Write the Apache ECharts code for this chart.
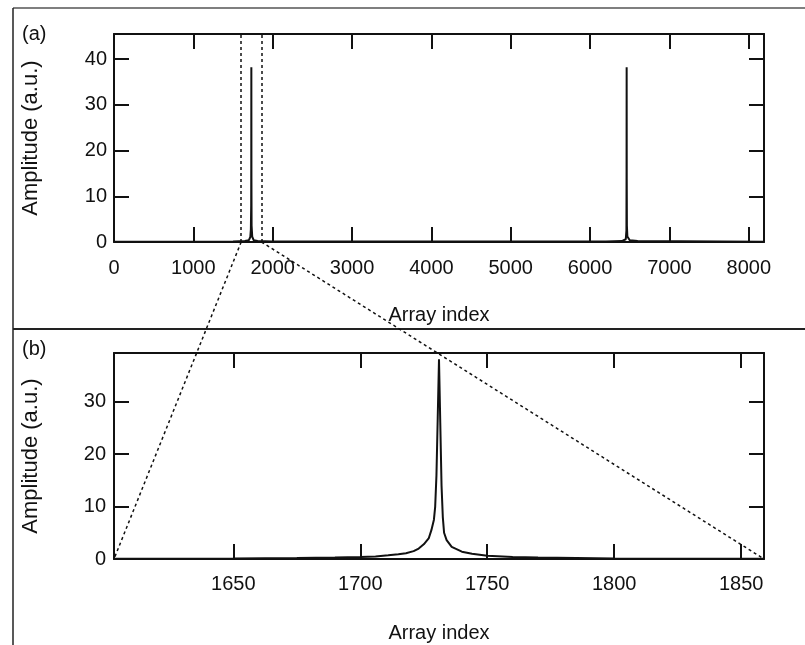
<!DOCTYPE html>
<html>
<head>
<meta charset="utf-8">
<script src="https://cdn.jsdelivr.net/npm/echarts@6/dist/echarts.min.js"></script>
<style>
  html, body { margin: 0; padding: 0; background: #fff; }
  #chart { width: 805px; height: 645px; }
</style>
</head>
<body>
<div id="chart"></div>
<script>
// full spectrum (panel a)
const fullIndex = [0, 1500, 1650, 1700, 1718, 1725, 1729, 1730, 1731, 1732, 1734, 1742, 1760, 1810, 2000,
  6200, 6400, 6450, 6458, 6460, 6461, 6462, 6464, 6470, 6500, 6600, 8191]
const fullAmp = [0.05, 0.1, 0.2, 0.4, 1.1, 2.8, 8, 16, 38.2, 14, 3.6, 1.2, 0.4, 0.2, 0.1,
  0.1, 0.2, 0.6, 2.5, 16, 38.2, 14, 3.6, 1.2, 0.4, 0.2, 0.05]

// zoomed window (panel b)
const zoomIndex = [1603, 1650, 1675, 1690, 1700, 1706, 1711, 1715, 1718, 1721, 1723, 1725, 1727, 1728, 1729,
  1729.5, 1730, 1730.5, 1731, 1731.5, 1732, 1732.5, 1733, 1734, 1736, 1740, 1744, 1750, 1760, 1770, 1785, 1800, 1859]
const zoomAmp = [0.05, 0.1, 0.2, 0.3, 0.4, 0.5, 0.7, 0.9, 1.1, 1.5, 2.0, 2.8, 4.0, 5.5, 7.5,
  10, 16, 27, 38.1, 26, 14, 8, 5, 3.6, 2.3, 1.4, 1.0, 0.6, 0.4, 0.3, 0.2, 0.1, 0.05]

// window boundaries
const windowStart = 1603
const windowEnd = 1859

const topXTicks = [0, 1000, 2000, 3000, 4000, 5000, 6000, 7000, 8000]
const topYTicks = [0, 10, 20, 30, 40]
const bottomXTicks = [1650, 1700, 1750, 1800, 1850]
const bottomYTicks = [0, 10, 20, 30]

const font = 'Liberation Sans, Arial, Helvetica, sans-serif'
const black = '#111'

const chart = echarts.init(document.getElementById('chart'))

const pairs = (xs, ys) => xs.map((x, i) => [x, ys[i]])

const axisBase = (ticks, showLabel, margin) => ({
  axisLine: { show: true, onZero: false, lineStyle: { color: black, width: 2 } },
  axisTick: { show: true, inside: true, length: 15, customValues: ticks, lineStyle: { color: black, width: 2 } },
  axisLabel: {
    show: showLabel, customValues: ticks, margin: margin, color: black, fontSize: 20, fontFamily: font,
    formatter: (v) => String(v)
  },
  splitLine: { show: false }
})

const nameStyle = (size) => ({ color: black, fontSize: size, fontFamily: font })

let option = {
  animation: false,
  grid: [
    { left: 114, right: 41, top: 34, height: 208 },
    { left: 114, right: 41, top: 353, height: 206 }
  ],
  xAxis: [
    Object.assign({
      type: 'value', gridIndex: 0, min: 0, max: 8192, position: 'bottom',
      name: 'Array index', nameLocation: 'middle', nameGap: 63, nameTextStyle: nameStyle(20)
    }, axisBase(topXTicks, true, 16)),
    Object.assign({ type: 'value', gridIndex: 0, min: 0, max: 8192, position: 'top' }, axisBase(topXTicks, false, 8)),
    Object.assign({
      type: 'value', gridIndex: 1, min: windowStart, max: windowEnd, position: 'bottom',
      name: 'Array index', nameLocation: 'middle', nameGap: 64, nameTextStyle: nameStyle(20)
    }, axisBase(bottomXTicks, true, 15)),
    Object.assign({ type: 'value', gridIndex: 1, min: windowStart, max: windowEnd, position: 'top' }, axisBase(bottomXTicks, false, 8))
  ],
  yAxis: [
    Object.assign({
      type: 'value', gridIndex: 0, min: 0, max: 45.5, position: 'left',
      name: 'Amplitude (a.u.)', nameLocation: 'middle', nameGap: 72, nameTextStyle: nameStyle(22)
    }, axisBase(topYTicks, true, 7)),
    Object.assign({ type: 'value', gridIndex: 0, min: 0, max: 45.5, position: 'right' }, axisBase(topYTicks, false, 8)),
    Object.assign({
      type: 'value', gridIndex: 1, min: 0, max: 39.3, position: 'left',
      name: 'Amplitude (a.u.)', nameLocation: 'middle', nameGap: 72, nameTextStyle: nameStyle(22)
    }, axisBase(bottomYTicks, true, 8)),
    Object.assign({ type: 'value', gridIndex: 1, min: 0, max: 39.3, position: 'right' }, axisBase(bottomYTicks, false, 8))
  ],
  series: [
    {
      type: 'line',
      xAxisIndex: 0,
      yAxisIndex: 0,
      showSymbol: false,
      lineStyle: { color: black, width: 2 },
      data: pairs(fullIndex, fullAmp),
      markLine: {
        silent: true,
        symbol: 'none',
        label: { show: false },
        lineStyle: { color: black, width: 1.5, type: [3, 3] },
        data: [{ xAxis: windowStart }, { xAxis: windowEnd }]
      }
    },
    {
      type: 'line',
      xAxisIndex: 2,
      yAxisIndex: 2,
      showSymbol: false,
      lineStyle: { color: black, width: 2 },
      data: pairs(zoomIndex, zoomAmp)
    }
  ]
}

chart.setOption(option)

// zoom connector lines, placed through the axes
const a0 = chart.convertToPixel({ xAxisIndex: 0, yAxisIndex: 0 }, [windowStart, 0])
const a1 = chart.convertToPixel({ xAxisIndex: 0, yAxisIndex: 0 }, [windowEnd, 0])
const b0 = chart.convertToPixel({ xAxisIndex: 2, yAxisIndex: 2 }, [windowStart, 0])
const b1 = chart.convertToPixel({ xAxisIndex: 2, yAxisIndex: 2 }, [windowEnd, 0])
const dotted = { stroke: black, lineWidth: 1.5, lineDash: [3, 3] }

chart.setOption({
  graphic: [
    { type: 'line', z: 10, shape: { x1: 13, y1: 8, x2: 805, y2: 8 }, style: { stroke: '#555', lineWidth: 1.5 } },
    { type: 'line', z: 10, shape: { x1: 13, y1: 8, x2: 13, y2: 645 }, style: { stroke: '#222', lineWidth: 1.5 } },
    { type: 'line', z: 10, shape: { x1: 13, y1: 329, x2: 805, y2: 329 }, style: { stroke: '#222', lineWidth: 2 } },
    { type: 'text', z: 10, left: 22, top: 24, style: { text: '(a)', fill: black, font: '20px ' + font } },
    { type: 'text', z: 10, left: 22, top: 339, style: { text: '(b)', fill: black, font: '20px ' + font } },
    { type: 'line', z: 10, shape: { x1: a0[0], y1: a0[1], x2: b0[0], y2: b0[1] }, style: dotted },
    { type: 'line', z: 10, shape: { x1: a1[0], y1: a1[1], x2: b1[0], y2: b1[1] }, style: dotted }
  ]
})
</script>
</body>
</html>
